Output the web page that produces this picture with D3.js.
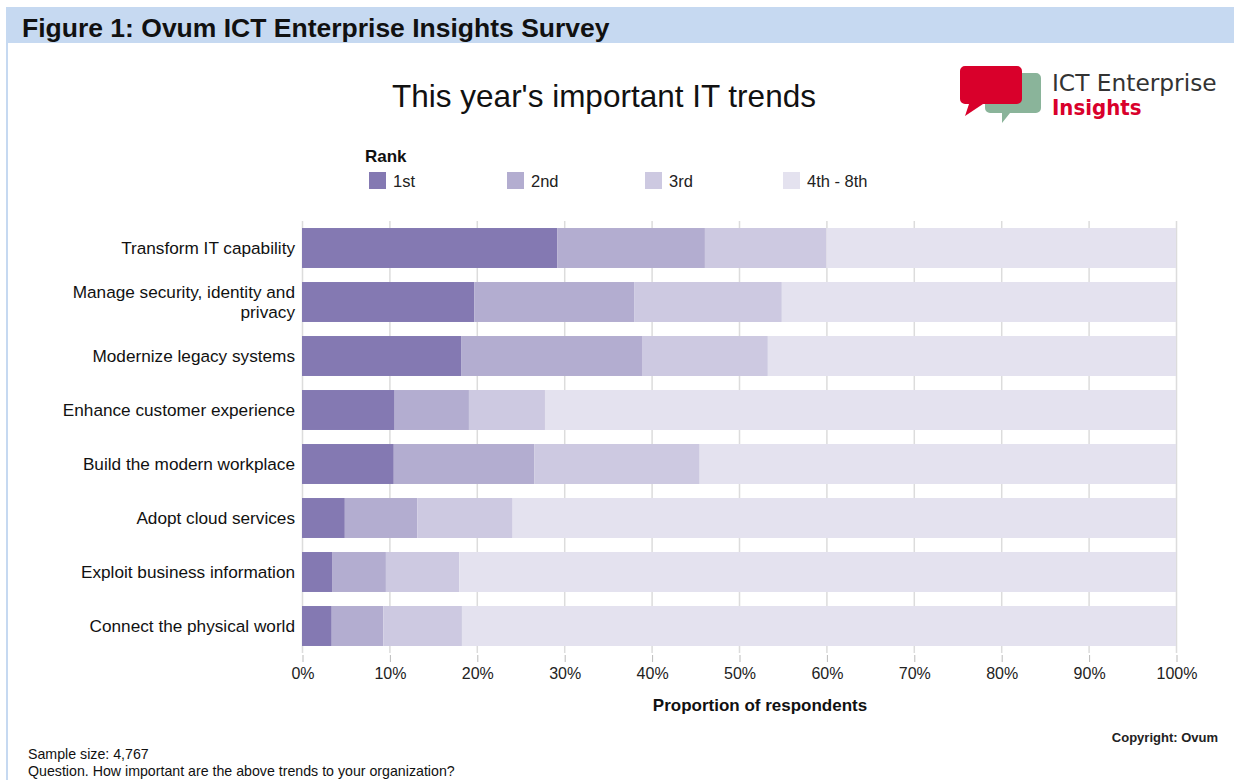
<!DOCTYPE html>
<html>
<head>
<meta charset="utf-8">
<script src="https://cdn.jsdelivr.net/npm/d3@7"></script>
<style>
  body { margin: 0; background: #fff; }
  svg { display: block; font-family: "Liberation Sans", Arial, sans-serif; }
</style>
</head>
<body>
<div id="chart"></div>
<script>
// --- data ---
const categories = [
  'Transform IT capability',
  'Manage security, identity and privacy',
  'Modernize legacy systems',
  'Enhance customer experience',
  'Build the modern workplace',
  'Adopt cloud services',
  'Exploit business information',
  'Connect the physical world'
];
const ranks = ['1st', '2nd', '3rd', '4th - 8th'];
const rank1 = [29.2, 19.7, 18.2, 10.6, 10.5, 4.9, 3.5, 3.4];
const rank2 = [16.9, 18.3, 20.7, 8.5, 16.1, 8.3, 6.1, 5.9];
const rank3 = [13.9, 16.9, 14.4, 8.7, 18.9, 10.9, 8.4, 9.0];
const rank4to8 = [40.0, 45.1, 46.7, 72.2, 54.5, 75.9, 82.0, 81.7];
const xTicks = [0, 10, 20, 30, 40, 50, 60, 70, 80, 90, 100];
const colors = ['#8479b2', '#b3add0', '#cdc9e1', '#e4e2ef'];

const W = 1234, H = 780;
const svg = d3.select('#chart').append('svg').attr('width', W).attr('height', H);

// frame + header band
svg.append('rect').attr('x', 6).attr('y', 7).attr('width', W - 6).attr('height', 36).attr('fill', '#c6d9f1');
svg.append('line').attr('x1', 7).attr('x2', 7).attr('y1', 43).attr('y2', H).attr('stroke', '#c6d9f1').attr('stroke-width', 2);
svg.append('text').attr('x', 22).attr('y', 37)
  .attr('font-size', 26.5).attr('font-weight', 'bold').attr('fill', '#111')
  .text('Figure 1: Ovum ICT Enterprise Insights Survey');

// chart title
svg.append('text').attr('x', 604).attr('y', 107).attr('text-anchor', 'middle')
  .attr('font-size', 31.5).attr('fill', '#111')
  .text("This year's important IT trends");

// logo
const logo = svg.append('g');
logo.append('path').attr('fill', '#8ab49a')
  .attr('d', 'M990,73 h46 a5,5 0 0 1 5,5 v30 a5,5 0 0 1 -5,5 h-26 l-8,10 l0,-10 h-12 a5,5 0 0 1 -5,-5 v-30 a5,5 0 0 1 5,-5 z');
logo.append('path').attr('fill', '#d9002b')
  .attr('d', 'M965,66 h52 a5,5 0 0 1 5,5 v28 a5,5 0 0 1 -5,5 h-34 l-18,12 l4,-12 h-4 a5,5 0 0 1 -5,-5 v-28 a5,5 0 0 1 5,-5 z');
logo.append('text').attr('x', 1052).attr('y', 91).attr('fill', '#333')
  .attr('font-family', '"DejaVu Sans", sans-serif').attr('font-size', 23.3).text('ICT Enterprise');
logo.append('text').attr('x', 1052).attr('y', 115).attr('fill', '#d9002b').attr('font-weight', 'bold')
  .attr('font-family', '"DejaVu Sans Condensed", "DejaVu Sans", sans-serif').attr('font-size', 22).text('Insights');

// legend
svg.append('text').attr('x', 365).attr('y', 162).attr('font-size', 17).attr('font-weight', 'bold').attr('fill', '#111').text('Rank');
const leg = svg.append('g').selectAll('g').data(ranks).join('g')
  .attr('transform', (d, i) => `translate(${369 + i * 138},172)`);
leg.append('rect').attr('width', 17).attr('height', 17).attr('fill', (d, i) => colors[i]);
leg.append('text').attr('x', 24).attr('y', 15).attr('font-size', 16.5).attr('fill', '#222').text(d => d);

// scales
const x = d3.scaleLinear().domain([0, 100]).range([302, 1176]);
const y = d3.scaleBand().domain(categories).range([221, 653]).paddingInner(0.26).paddingOuter(0.13);

// gridlines
svg.append('g').selectAll('line').data(xTicks).join('line')
  .attr('x1', d => x(d) + 0.5).attr('x2', d => x(d) + 0.5)
  .attr('y1', 221).attr('y2', 653)
  .attr('stroke', '#dcdcdc').attr('stroke-width', 1.5);

// stacked bars
const rows = categories.map((c, i) => ({ cat: c, '1st': rank1[i], '2nd': rank2[i], '3rd': rank3[i], '4th - 8th': rank4to8[i] }));
const stack = d3.stack().keys(ranks)(rows);
svg.append('g').selectAll('g').data(stack).join('g')
  .attr('fill', (d, i) => colors[i])
  .selectAll('rect').data(d => d).join('rect')
  .attr('x', d => x(d[0])).attr('width', d => Math.min(x(d[1]), x(100)) - x(d[0]))
  .attr('y', d => y(d.data.cat)).attr('height', y.bandwidth());

// x axis
const xAxis = svg.append('g').attr('transform', 'translate(0.5,655)')
  .call(d3.axisBottom(x).tickValues(xTicks).tickFormat(d => d + '%').tickSize(7).tickPadding(6));
xAxis.select('.domain').remove();
xAxis.selectAll('line').attr('stroke', '#bbb');
xAxis.selectAll('text').attr('font-size', 16).attr('fill', '#222');
svg.append('text').attr('x', 760).attr('y', 711).attr('text-anchor', 'middle')
  .attr('font-size', 17).attr('font-weight', 'bold').attr('fill', '#111')
  .text('Proportion of respondents');

// category labels
const wrapLabels = { 'Manage security, identity and privacy': ['Manage security, identity and', 'privacy'] };
const lab = svg.append('g').selectAll('text').data(categories).join('text')
  .attr('text-anchor', 'end').attr('font-size', 17.2).attr('fill', '#111')
  .attr('transform', d => `translate(295,${y(d) + y.bandwidth() / 2})`);
lab.each(function (d) {
  const lines = wrapLabels[d] || [d];
  const t = d3.select(this);
  lines.forEach((ln, k) => {
    t.append('tspan').attr('x', 0)
      .attr('y', (k - (lines.length - 1) / 2) * 20 + 6)
      .text(ln);
  });
});

// footer
svg.append('text').attr('x', 1218).attr('y', 742).attr('text-anchor', 'end')
  .attr('font-size', 13).attr('font-weight', 'bold').attr('fill', '#222').text('Copyright: Ovum');
svg.append('text').attr('x', 28).attr('y', 759).attr('font-size', 14.2).attr('fill', '#111').text('Sample size: 4,767');
svg.append('text').attr('x', 28).attr('y', 776).attr('font-size', 14.2).attr('fill', '#111')
  .text('Question. How important are the above trends to your organization?');
</script>
</body>
</html>
